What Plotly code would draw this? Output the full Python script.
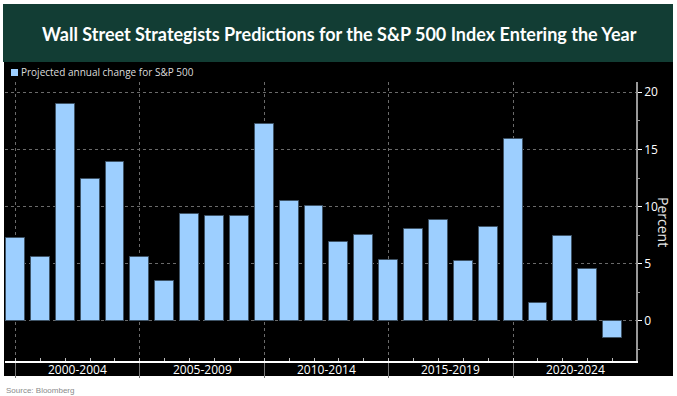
import plotly.graph_objects as go

years = list(range(2000, 2025))
projected_change = [7.3, 5.6, 19.0, 12.45, 13.9, 5.6, 3.5, 9.4, 9.2, 9.15,
                    17.25, 10.5, 10.05, 6.9, 7.55, 5.3, 8.05, 8.8, 5.25, 8.25,
                    15.95, 1.55, 7.45, 4.55, -1.45]
period_labels = ["2000-2004", "2005-2009", "2010-2014", "2015-2019", "2020-2024"]
period_centers = [2002.5, 2007.5, 2012.5, 2017.5, 2022.5]
y_ticks = [0, 5, 10, 15, 20]
series_name = "Projected annual change for S&P 500"

W, H = 677, 396
L, R, T, B = 5, 41, 82, 35
pw, ph = W - L - R, H - T - B

def px(x):
    return (x - L) / pw

def py(y):
    return (H - B - y) / ph

fig = go.Figure()
fig.add_trace(go.Bar(
    x=years, y=projected_change, name=series_name,
    marker=dict(color="#9dcfff", line=dict(color="#3e5366", width=1)),
    width=0.76, showlegend=False,
))

shapes = [
    dict(type="rect", xref="paper", yref="paper", x0=px(4), x1=px(673), y0=py(376), y1=py(62),
         fillcolor="#000000", line=dict(width=0), layer="below"),
    dict(type="rect", xref="paper", yref="paper", x0=px(3), x1=px(673), y0=py(62), y1=py(4),
         fillcolor="#123d34", line=dict(width=0), layer="below"),
    dict(type="rect", xref="paper", yref="paper", x0=px(11), x1=px(18), y0=py(76), y1=py(69),
         fillcolor="#9dcfff", line=dict(width=0)),
]

annotations = [
    dict(text="<b>Wall Street Strategists Predictions for the S&P 500 Index Entering the Year</b>",
         xref="paper", yref="paper", x=px(339), y=py(34), showarrow=False,
         font=dict(family="Lato", size=18, color="white"), xanchor="center", yanchor="middle"),
    dict(text="Percent", xref="paper", yref="paper", x=px(664), y=py(222), showarrow=False,
         textangle=90, font=dict(family="Open Sans", size=14, color="#e8e8e8"),
         xanchor="center", yanchor="middle"),
    dict(text="Source: Bloomberg", xref="paper", yref="paper", x=px(4), y=py(390), showarrow=False,
         font=dict(family="Liberation Sans", size=8, color="#8a8a8a"), xanchor="left", yanchor="middle"),
    dict(text=series_name, xref="paper", yref="paper", x=px(19), y=py(72.5), showarrow=False,
         font=dict(family="Open Sans", size=10, color="#dcdcdc"), xanchor="left", yanchor="middle"),
]
for lab, c in zip(period_labels, period_centers):
    annotations.append(dict(text=lab, x=c, xref="x", yref="paper", y=py(369), showarrow=False,
                            font=dict(family="Open Sans", size=12, color="white"),
                            xanchor="center", yanchor="middle"))

fig.update_layout(
    width=W, height=H,
    margin=dict(l=L, r=R, t=T, b=B, pad=0, autoexpand=False),
    paper_bgcolor="white", plot_bgcolor="black",
    shapes=shapes, annotations=annotations,
    bargap=0,
    xaxis=dict(range=[1999.58, 2024.94], showgrid=True, gridcolor="#6a6a6a", griddash="dot", gridwidth=1,
               tick0=2000, dtick=5, tickmode="linear", ticks="outside", ticklen=15, tickcolor="#777777",
               showticklabels=False, zeroline=False, showline=True, linecolor="white", linewidth=1.5,
               minor=dict(dtick=1, tick0=2000, ticks="inside", ticklen=3, tickcolor="#bbbbbb", showgrid=False)),
    yaxis=dict(side="right", range=[-3.5, 20.9], tickvals=y_ticks, showgrid=True, gridcolor="#6a6a6a",
               griddash="dot", gridwidth=1, zeroline=False, showline=True, linecolor="#999999", linewidth=1.5,
               ticks="outside", ticklen=4, tickcolor="white",
               tickfont=dict(family="Open Sans", size=12, color="white"),
               minor=dict(dtick=2.5, tick0=0, ticks="outside", ticklen=2, tickcolor="#999999", showgrid=False)),
)

fig.write_html("out.html", config={"displayModeBar": False},
               post_script="document.body.style.margin='0';document.body.style.overflow='hidden';")
